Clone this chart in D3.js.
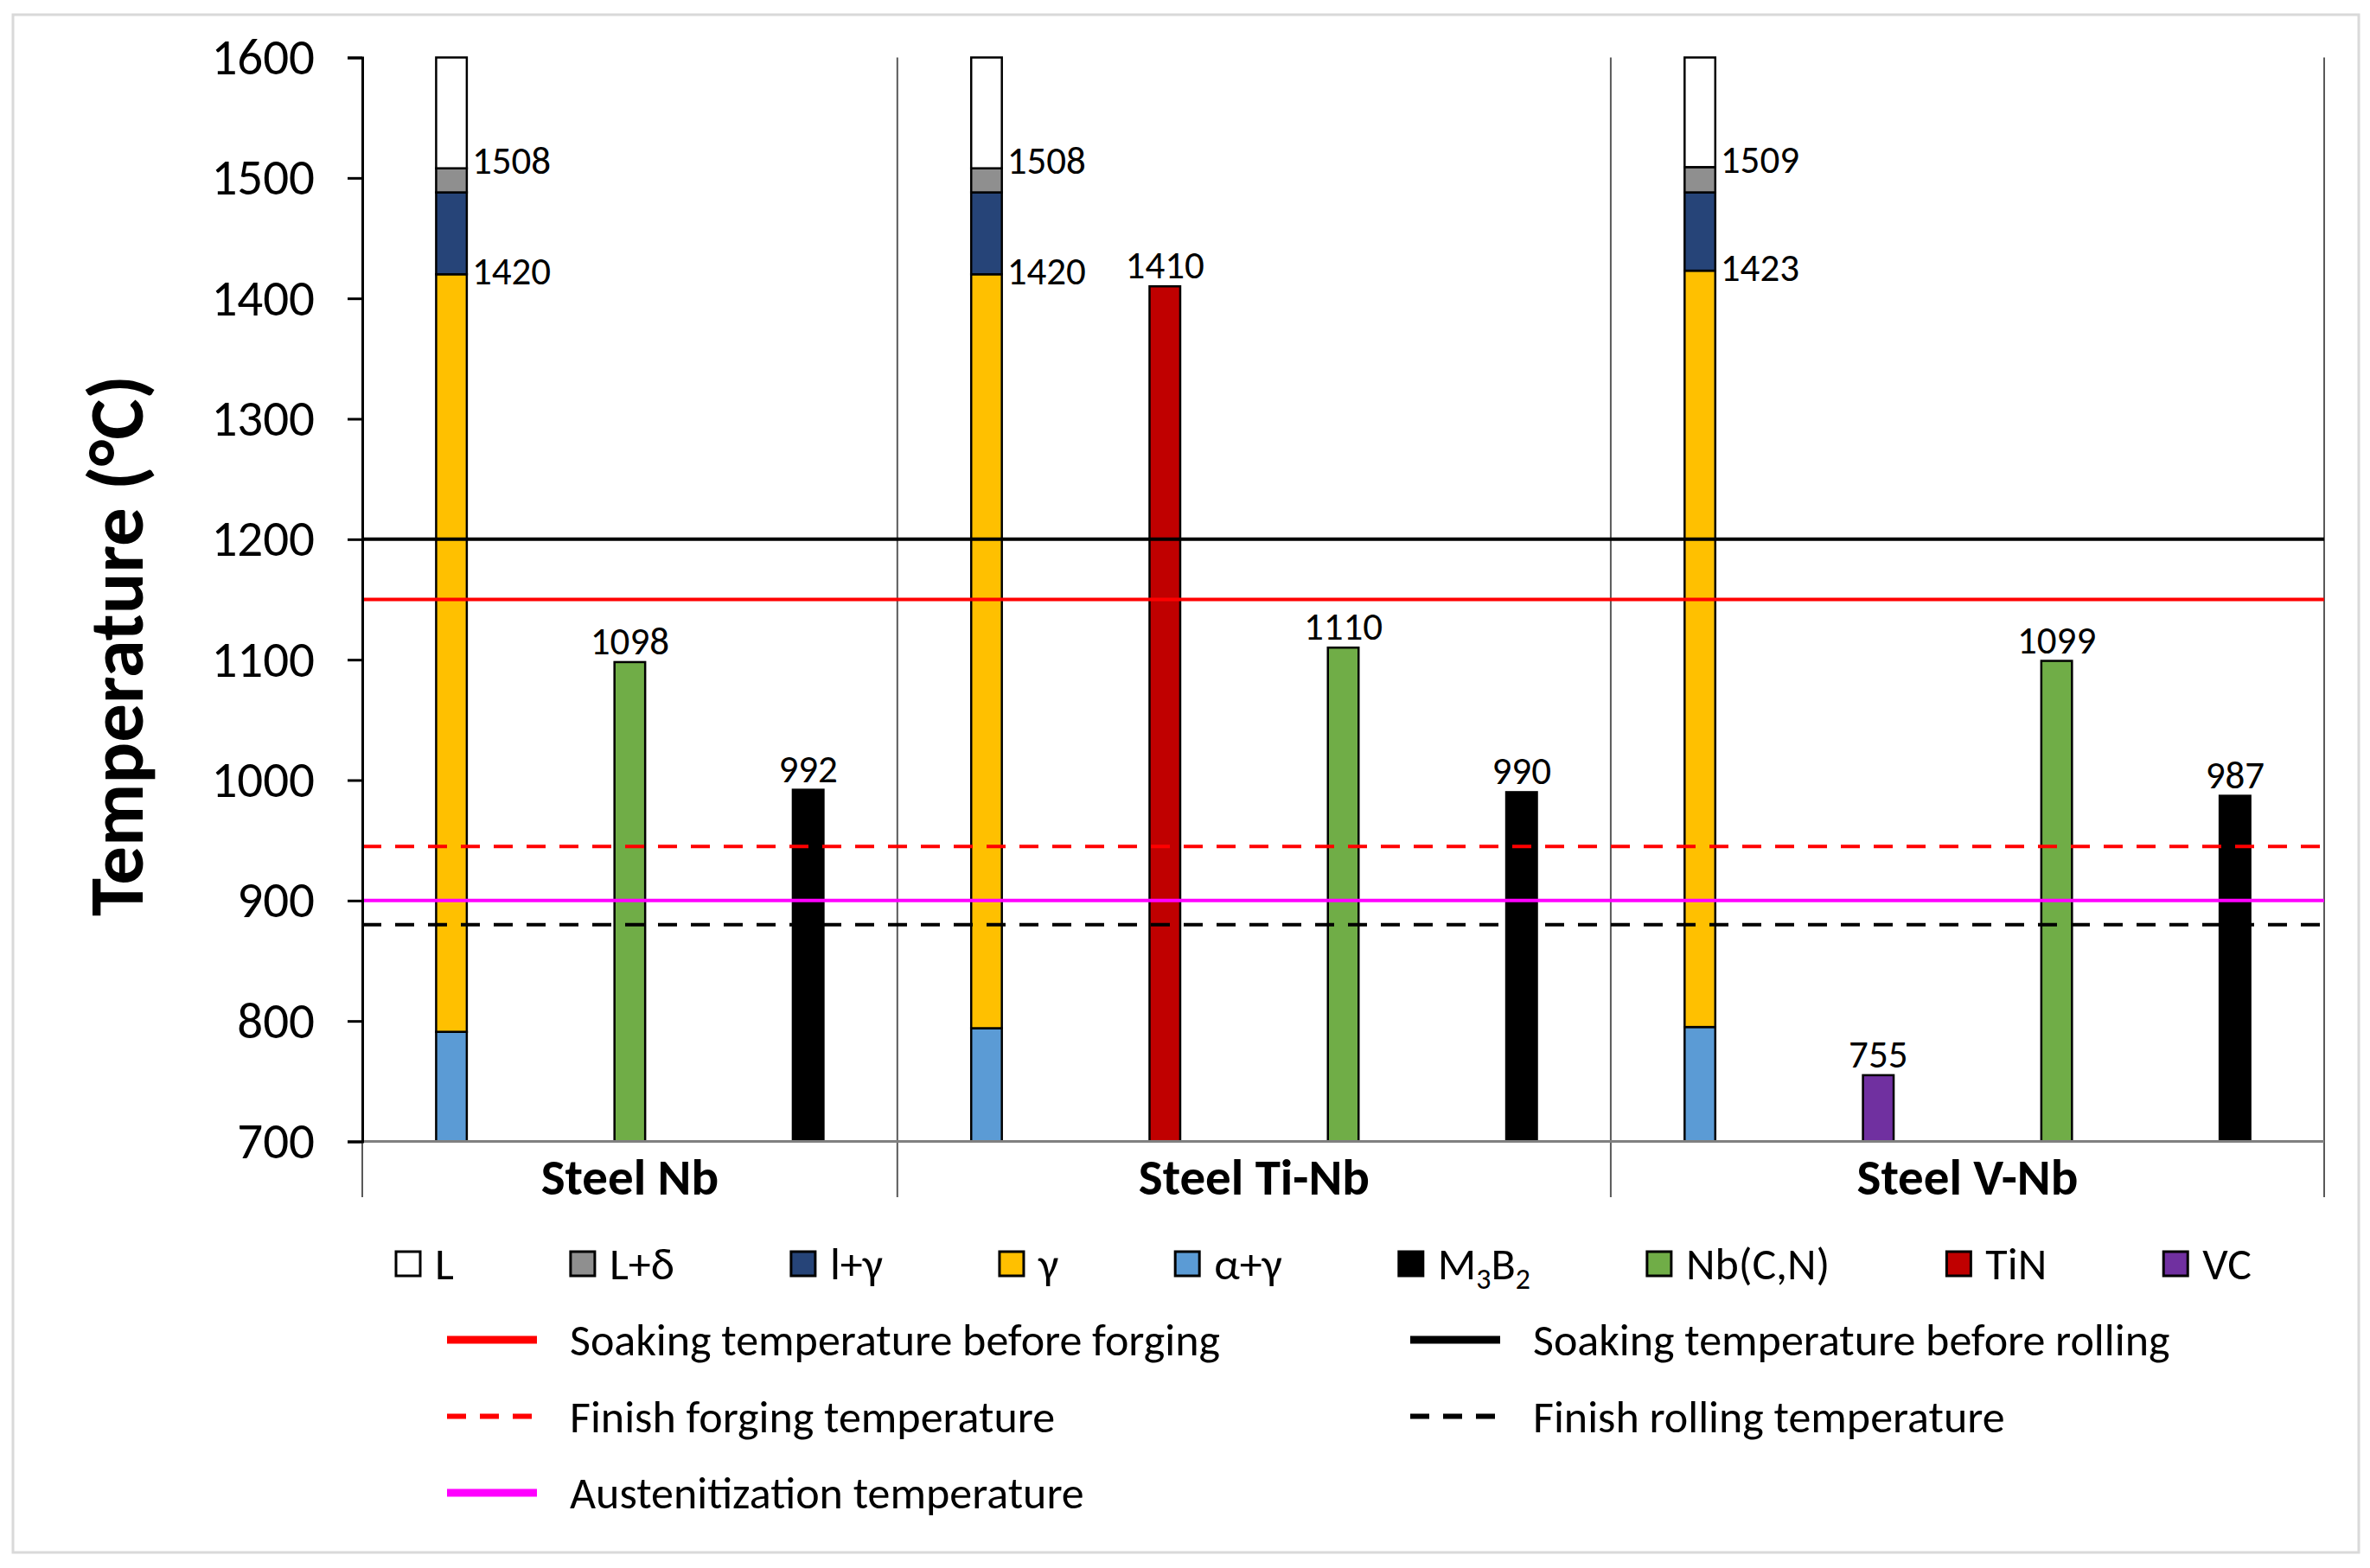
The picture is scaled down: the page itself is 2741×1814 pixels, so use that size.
<!DOCTYPE html>
<html>
<head>
<meta charset="utf-8">
<script src="https://cdn.jsdelivr.net/npm/d3@7"></script>
<style>
  body { margin: 0; background: #fff; }
  text { font-family: Carlito, Lato, "Noto Sans", sans-serif; fill: #000; }
</style>
</head>
<body>
<div id="chart"></div>
<script>
// --- data ---
const steels = ["Steel Nb", "Steel Ti-Nb", "Steel V-Nb"];

// phase field boundaries (°C) of the stacked column, per steel
const alphaGammaTop = [791, 794, 795];
const gammaTop = [1420, 1420, 1423];
const lGammaTop = [1488, 1488, 1488];
const lDeltaTop = [1508, 1508, 1509];
const liquidTop = [1600, 1600, 1600];

// precipitate dissolution temperatures
const precipSteel = ["Steel Nb", "Steel Nb", "Steel Ti-Nb", "Steel Ti-Nb", "Steel Ti-Nb", "Steel V-Nb", "Steel V-Nb", "Steel V-Nb"];
const precipPhase = ["Nb(C,N)", "M3B2", "TiN", "Nb(C,N)", "M3B2", "VC", "Nb(C,N)", "M3B2"];
const precipTemp = [1098, 992, 1410, 1110, 990, 755, 1099, 987];

// process temperatures
const refNames = ["Soaking temperature before forging", "Soaking temperature before rolling",
                  "Finish forging temperature", "Finish rolling temperature",
                  "Austenitization temperature"];
const refTemps = [1150, 1200, 945, 880, 900];

const legendPhases = ["L", "L+δ", "l+γ", "γ", "α+γ", "M3B2", "Nb(C,N)", "TiN", "VC"];
const yTicks = [700, 800, 900, 1000, 1100, 1200, 1300, 1400, 1500, 1600];

// --- styles ---
const phaseColor = {
  "L": "#ffffff", "L+δ": "#8f8f8f", "l+γ": "#264478", "γ": "#ffc000", "α+γ": "#5b9bd5",
  "M3B2": "#000000", "Nb(C,N)": "#70ad47", "TiN": "#c00000", "VC": "#7030a0"
};
const refStyle = [
  { color: "#ff0000", dash: null },
  { color: "#000000", dash: null },
  { color: "#ff0000", dash: "22,16" },
  { color: "#000000", dash: "22,16" },
  { color: "#ff00ff", dash: null }
];

const W = 2741, H = 1814;
const plot = { left: 419, right: 2688, top: 66.5, bottom: 1320.5 };

const svg = d3.select("#chart").append("svg")
    .attr("width", W)
    .attr("height", H);

svg.append("rect")
    .attr("x", 15).attr("y", 17)
    .attr("width", 2713).attr("height", 1779)
    .attr("fill", "#fff")
    .attr("stroke", "#d9d9d9")
    .attr("stroke-width", 3);

// categories: one slot per column, grouped by steel
const categories = [];
steels.forEach(s => {
  categories.push(s + "|stack");
  precipSteel.forEach((ps, i) => { if (ps === s) categories.push(s + "|" + precipPhase[i]); });
});

const x = d3.scaleBand()
    .domain(categories)
    .range([plot.left, plot.right])
    .padding(0);

const y = d3.scaleLinear()
    .domain([700, 1600])
    .range([plot.bottom, plot.top]);

const barW = x.bandwidth() * 0.172;
const barX = c => x(c) + x.bandwidth() / 2 - barW / 2;

// group separators
const groupEdges = [];
steels.forEach(s => {
  const cats = categories.filter(c => c.startsWith(s + "|"));
  groupEdges.push({ steel: s, x0: x(cats[0]), x1: x(cats[cats.length - 1]) + x.bandwidth() });
});

svg.append("g").selectAll("line")
    .data([groupEdges[0].x0].concat(groupEdges.map(g => g.x1)))
    .join("line")
    .attr("x1", d => d).attr("x2", d => d)
    .attr("y1", plot.top).attr("y2", 1385)
    .attr("stroke", "#595959")
    .attr("stroke-width", 2);

// stacked phase columns
const stackRows = [];
steels.forEach((s, i) => {
  const bounds = [700, alphaGammaTop[i], gammaTop[i], lGammaTop[i], lDeltaTop[i], liquidTop[i]];
  const names = ["α+γ", "γ", "l+γ", "L+δ", "L"];
  names.forEach((n, j) => stackRows.push({ cat: s + "|stack", phase: n, y0: bounds[j], y1: bounds[j + 1] }));
});

svg.append("g").selectAll("rect")
    .data(stackRows)
    .join("rect")
    .attr("x", d => barX(d.cat))
    .attr("y", d => y(d.y1))
    .attr("width", barW)
    .attr("height", d => y(d.y0) - y(d.y1))
    .attr("fill", d => phaseColor[d.phase])
    .attr("stroke", "#000")
    .attr("stroke-width", 2.5);

// precipitate columns
const precipRows = precipTemp.map((t, i) => ({ cat: precipSteel[i] + "|" + precipPhase[i], phase: precipPhase[i], t }));

svg.append("g").selectAll("rect")
    .data(precipRows)
    .join("rect")
    .attr("x", d => barX(d.cat))
    .attr("y", d => y(d.t))
    .attr("width", barW)
    .attr("height", d => y(700) - y(d.t))
    .attr("fill", d => phaseColor[d.phase])
    .attr("stroke", "#000")
    .attr("stroke-width", 2.5);

// value labels
const valFont = 45;
svg.append("g").selectAll("text")
    .data(precipRows)
    .join("text")
    .attr("x", d => x(d.cat) + x.bandwidth() / 2)
    .attr("y", d => y(d.t) - 9)
    .attr("text-anchor", "middle")
    .style("font-size", valFont + "px")
    .text(d => d.t);

const sideLabels = [];
steels.forEach((s, i) => {
  sideLabels.push({ cat: s + "|stack", t: lDeltaTop[i], dy: -4 });
  sideLabels.push({ cat: s + "|stack", t: gammaTop[i], dy: 1 });
});
svg.append("g").selectAll("text")
    .data(sideLabels)
    .join("text")
    .attr("x", d => barX(d.cat) + barW + 6)
    .attr("y", d => y(d.t) + d.dy)
    .attr("dominant-baseline", "middle")
    .style("font-size", valFont + "px")
    .text(d => d.t);

// reference lines (drawn over the columns)
svg.append("g").selectAll("line")
    .data(refTemps.map((t, i) => ({ t, i })))
    .join("line")
    .attr("x1", plot.left).attr("x2", plot.right)
    .attr("y1", d => y(d.t)).attr("y2", d => y(d.t))
    .attr("stroke", d => refStyle[d.i].color)
    .attr("stroke-width", 4)
    .attr("stroke-dasharray", d => refStyle[d.i].dash);

// x axis base line
svg.append("line")
    .attr("x1", plot.left).attr("x2", plot.right)
    .attr("y1", plot.bottom).attr("y2", plot.bottom)
    .attr("stroke", "#808080")
    .attr("stroke-width", 3);

// y axis
const yAxis = svg.append("g")
    .attr("transform", `translate(${plot.left},0)`)
    .call(d3.axisLeft(y).tickValues(yTicks).tickSize(17).tickPadding(38).tickFormat(d3.format("d")));
yAxis.select(".domain").attr("stroke", "#000").attr("stroke-width", 3);
yAxis.selectAll(".tick line").attr("stroke", "#000").attr("stroke-width", 3);
yAxis.selectAll(".tick text")
    .attr("fill", "#000")
    .style("font-size", "59px")
    .attr("font-family", null);

svg.append("text")
    .attr("transform", "translate(134,747) rotate(-90)")
    .attr("text-anchor", "middle")
    .attr("dominant-baseline", "central")
    .style("font-size", "89px")
    .style("font-weight", "bold")
    .text("Temperature (°C)");

// steel group labels
svg.append("g").selectAll("text")
    .data(groupEdges)
    .join("text")
    .attr("x", d => (d.x0 + d.x1) / 2)
    .attr("y", 1382)
    .attr("text-anchor", "middle")
    .style("font-size", "59px")
    .style("font-weight", "bold")
    .text(d => d.steel);

// legend: phases
const legFont = 52;
const legY = 1462;
const legStart = 458, legEnd = 2604;
const legG = svg.append("g");
const items = legG.selectAll("g")
    .data(legendPhases)
    .join("g");
items.append("rect")
    .attr("x", 0).attr("y", -14)
    .attr("width", 28).attr("height", 28)
    .attr("fill", d => phaseColor[d])
    .attr("stroke", "#000")
    .attr("stroke-width", 3);
const legText = items.append("text")
    .attr("x", 45)
    .attr("y", 18)
    .style("font-size", legFont + "px");
legText.each(function(d) {
  const t = d3.select(this);
  const m = d.match(/^([A-Z])(\d)([A-Z])(\d)$/);
  if (m) {
    t.append("tspan").text(m[1]);
    t.append("tspan").text(m[2]).attr("dy", 11).style("font-size", (legFont * 0.65) + "px");
    t.append("tspan").text(m[3]).attr("dy", -11);
    t.append("tspan").text(m[4]).attr("dy", 11).style("font-size", (legFont * 0.65) + "px");
  } else {
    t.text(d);
  }
});
const widths = [];
items.each(function() { widths.push(45 + d3.select(this).select("text").node().getComputedTextLength()); });
const gap = (legEnd - legStart - d3.sum(widths)) / (widths.length - 1);
let cx = legStart;
items.attr("transform", (d, i) => {
  const tr = `translate(${cx},${legY})`;
  cx += widths[i] + gap;
  return tr;
});

// legend: process temperatures (two columns, order as in the original legend)
const refOrder = [0, 1, 2, 3, 4];
const refLeg = svg.append("g").selectAll("g")
    .data(refOrder)
    .join("g")
    .attr("transform", (d, k) => `translate(${k % 2 === 0 ? 517 : 1631},${1550 + Math.floor(k / 2) * 88.5})`);
refLeg.append("line")
    .attr("x1", 0).attr("x2", 104)
    .attr("y1", 0).attr("y2", 0)
    .attr("stroke", d => refStyle[d].color)
    .attr("stroke-width", d => refStyle[d].dash ? 6 : 9)
    .attr("stroke-dasharray", d => refStyle[d].dash);
refLeg.append("text")
    .attr("x", 142)
    .attr("y", 0)
    .attr("dominant-baseline", "central")
    .style("font-size", legFont + "px")
    .text(d => refNames[d]);
</script>
</body>
</html>
